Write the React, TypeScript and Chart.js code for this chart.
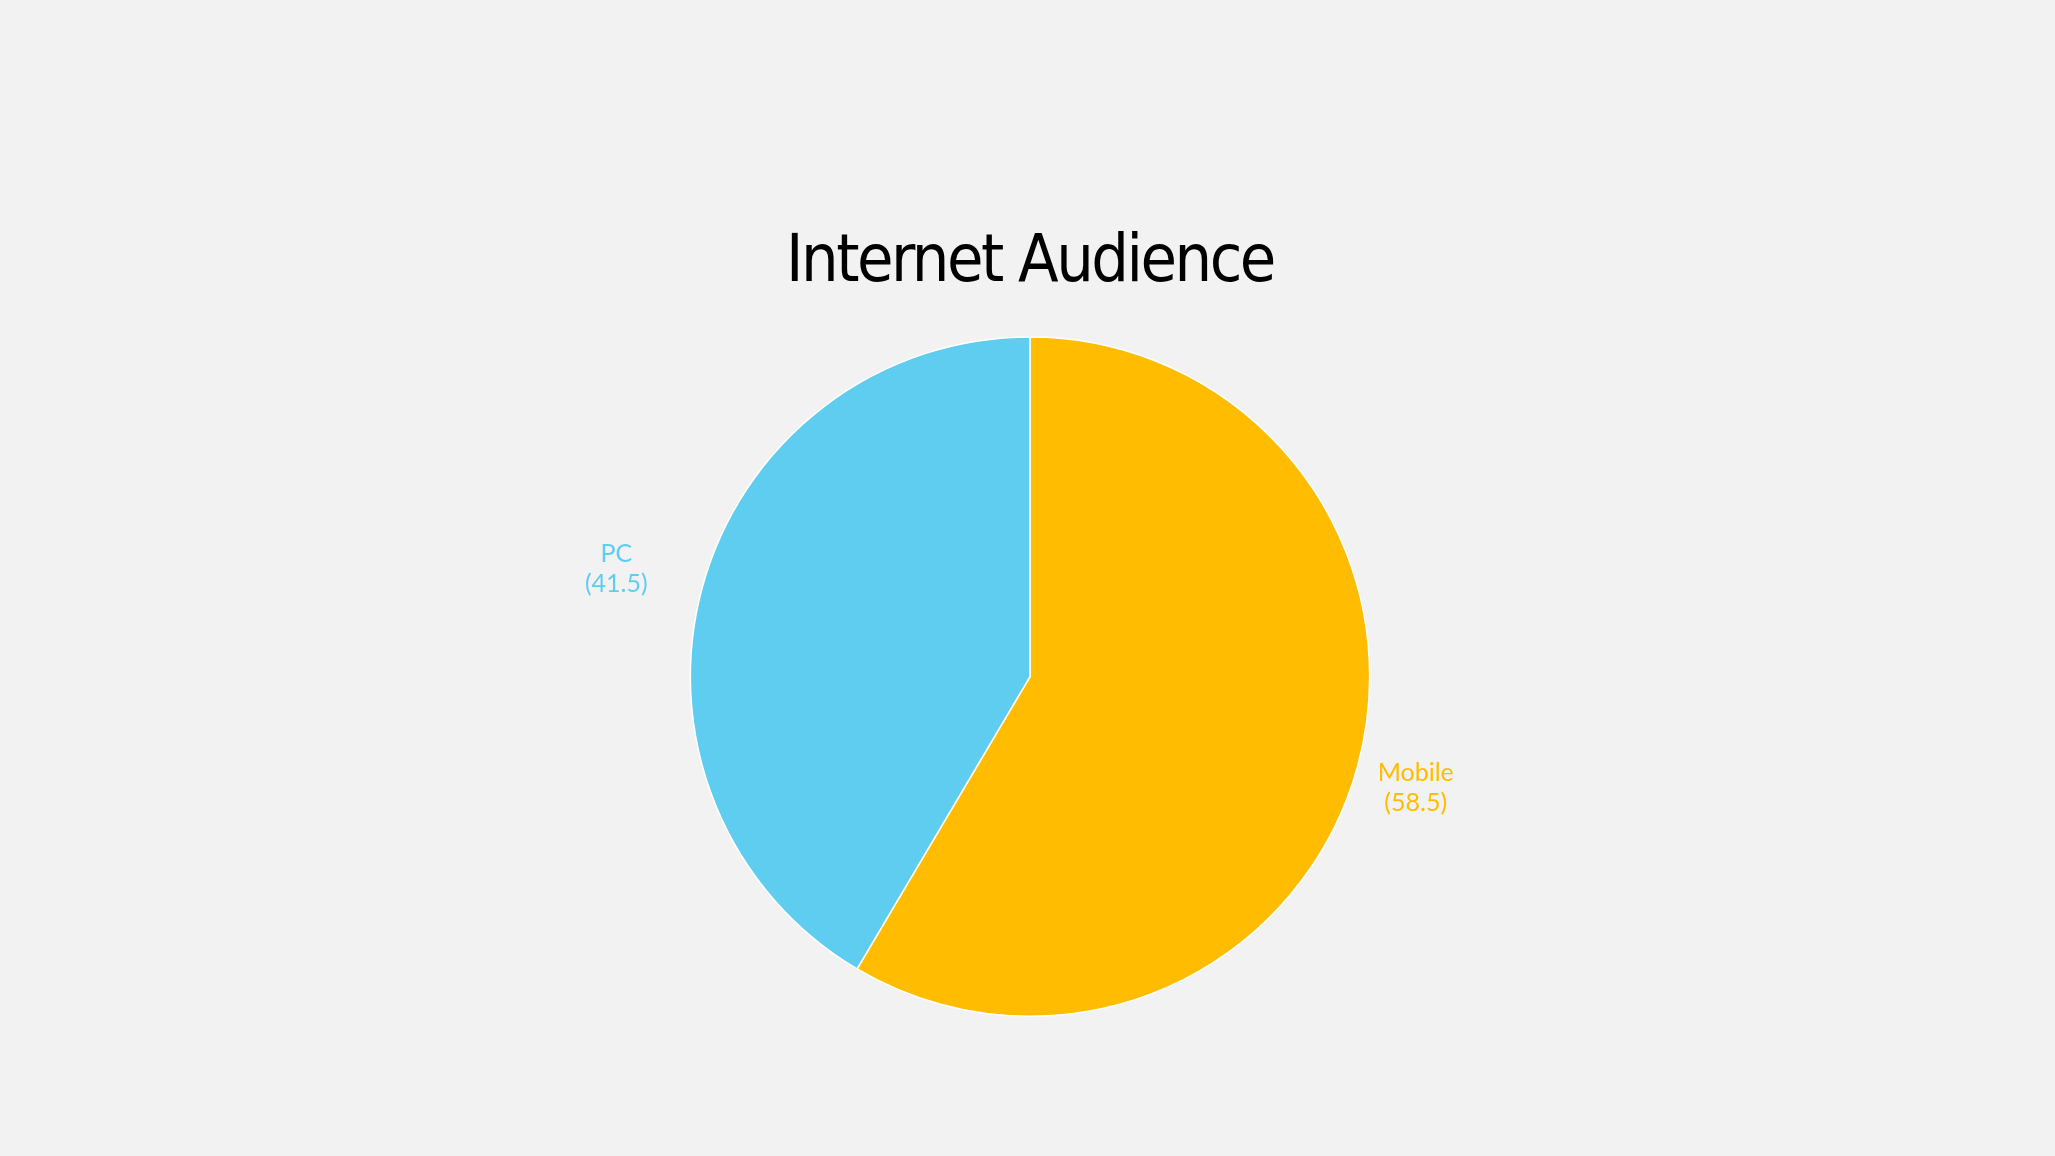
import React, { useEffect, useRef } from "react";
import { Chart, registerables } from "chart.js";

Chart.register(...registerables);

const categories = ["Mobile", "PC"];
const shares = [58.5, 41.5];
const sliceColors = ["#FFBC00", "#5ECDEF"];
const chartTitle = "Internet Audience";

// tighter letters for the title (the original face is a narrow one)
const narrowText = {
    id: "narrowText",
    beforeDraw(chart) {
        (chart.ctx as any).letterSpacing = "-2.5px";
    },
    afterDraw(chart) {
        (chart.ctx as any).letterSpacing = "0px";
    }
};

// writes "name" and "(value)" outside each slice, in the slice colour
const sliceLabels = {
    id: "sliceLabels",
    afterDatasetsDraw(chart) {
        const ctx = chart.ctx;
        const meta = chart.getDatasetMeta(0);
        ctx.save();
        (ctx as any).letterSpacing = "0px";
        ctx.font = "25px Lato, 'Open Sans', sans-serif";
        ctx.textAlign = "center";
        ctx.textBaseline = "middle";
        meta.data.forEach((arc: any, i) => {
            const p = arc.getProps(["x", "y", "startAngle", "endAngle", "outerRadius"], true);
            const mid = (p.startAngle + p.endAngle) / 2;
            const dist = p.outerRadius * 1.22;
            const px = p.x + Math.cos(mid) * dist - 14;
            const py = p.y + Math.sin(mid) * dist + 2;
            ctx.fillStyle = sliceColors[i];
            ctx.fillText(categories[i], px, py - 15);
            ctx.fillText("(" + shares[i] + ")", px, py + 15);
        });
        ctx.restore();
    }
};

export default function App() {
    const canvasRef = useRef<HTMLCanvasElement>(null);

    useEffect(() => {
        if (!canvasRef.current) return;
        const chart = new Chart(canvasRef.current, {
            type: "pie",
            data: {
                labels: categories,
                datasets: [{
                    data: shares,
                    backgroundColor: sliceColors,
                    borderColor: "#ffffff",
                    borderWidth: 1.5
                }]
            },
            options: {
                responsive: true,
                maintainAspectRatio: false,
                animation: false,
                layout: {
                    padding: { top: 0, bottom: 139, left: 5, right: 0 }
                },
                plugins: {
                    legend: { display: false },
                    tooltip: { enabled: false },
                    title: {
                        display: true,
                        text: chartTitle,
                        color: "#000000",
                        font: { family: "'DejaVu Sans Condensed', 'DejaVu Sans', sans-serif", size: 66, weight: "normal" },
                        padding: { top: 224, bottom: 33 }
                    }
                }
            },
            plugins: [narrowText, sliceLabels]
        });
        return () => {
            chart.destroy();
        };
    }, []);

    return (
        <div style={{ position: "fixed", inset: 0, background: "#f2f2f2" }}>
            <canvas ref={canvasRef}></canvas>
        </div>
    );
}
